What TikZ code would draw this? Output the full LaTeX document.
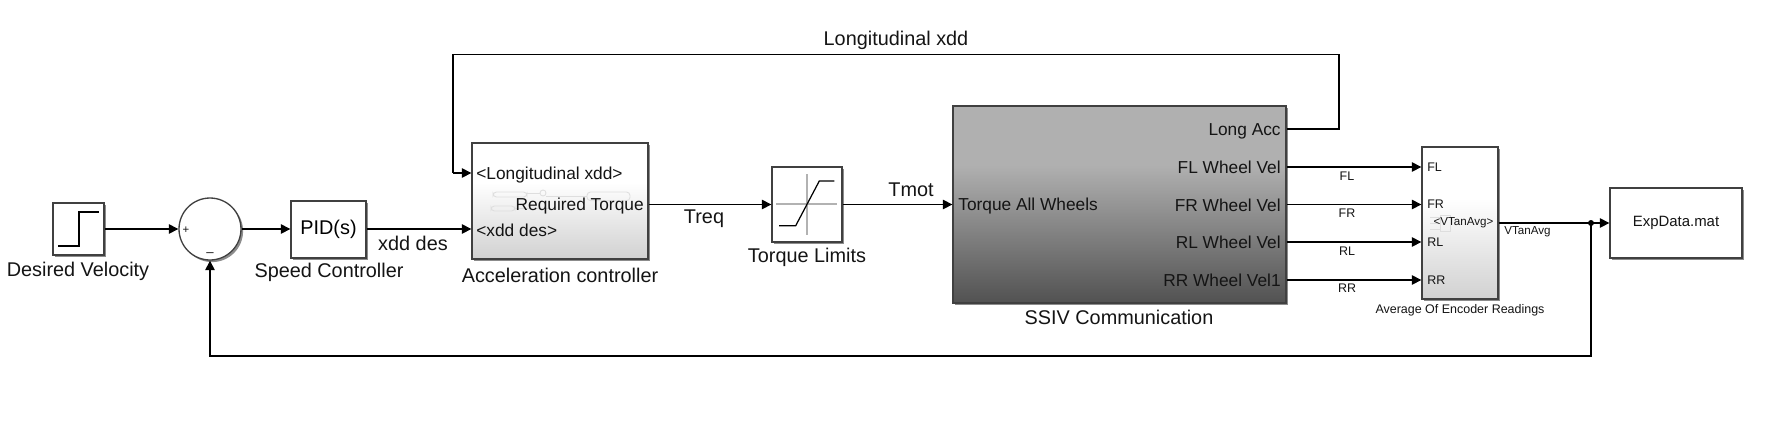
\documentclass[tikz,border=0pt]{standalone}
\usepackage{fontspec}
\setmainfont{Liberation Sans}
\usetikzlibrary{arrows.meta, shadows, calc}
\definecolor{edgegray}{RGB}{64, 64, 64}
\definecolor{textdark}{RGB}{20, 20, 20}
\definecolor{ghostgray}{RGB}{222, 222, 222}
\pgfdeclareverticalshading{ssivshade}{100bp}{color(0bp)=(black!68); color(25bp)=(black!68); color(60bp)=(black!31); color(75bp)=(black!31); color(100bp)=(black!31)}
\pgfdeclareverticalshading{maskshade}{100bp}{color(0bp)=(black!18); color(25bp)=(black!18); color(58bp)=(white); color(75bp)=(white); color(100bp)=(white)}
\tikzset{
  blockbox/.style={draw=edgegray, line width=0.75pt, fill=white, inner sep=0pt, drop shadow={shadow xshift=1.2pt, shadow yshift=-1.2pt, opacity=0.45, fill=black}},
  maskbox/.style={blockbox, shading=maskshade},
  sig/.style={draw=black, line width=0.65pt, -{Triangle[length=5.4pt, width=5.4pt]}},
  sigplain/.style={draw=black, line width=0.65pt},
  lbl/.style={inner sep=0pt, text=textdark, font=\fontsize{11.3}{13}\selectfont},
  portlbl/.style={inner sep=0pt, text=textdark, font=\fontsize{9.85}{12}\selectfont},
  tinylbl/.style={inner sep=0pt, text=textdark, font=\fontsize{7.1}{9}\selectfont},
  ghost/.style={draw=ghostgray, line width=0.5pt, rounded corners=2pt},
}

\begin{document}
\begin{tikzpicture}[x=0.02cm, y=-0.02cm]
  \useasboundingbox (0, 0) rectangle (1769, 447);

  \node[blockbox, minimum width=1.02cm, minimum height=1.04cm] (stepblk) at (78.5, 229) {};
  \node[blockbox, circle, minimum size=1.24cm] (sumblk) at (210, 229) {};
  \node[blockbox, minimum width=1.5cm, minimum height=1.14cm, font=\fontsize{11.3}{13}\selectfont] (pidblk) at (328.5, 229.5) {PID(s)};
  \node[maskbox, minimum width=3.52cm, minimum height=2.32cm] (accblk) at (560, 201) {};
  \node[blockbox, minimum width=1.4cm, minimum height=1.5cm] (satblk) at (807, 204.5) {};
  \node[blockbox, shading=ssivshade, minimum width=6.66cm, minimum height=3.94cm] (ssivblk) at (1119.5, 204.5) {};
  \node[maskbox, minimum width=1.52cm, minimum height=3.04cm] (avgblk) at (1460, 223) {};
  \node[blockbox, minimum width=2.64cm, minimum height=1.4cm, font=\fontsize{8.5}{10}\selectfont, text=textdark] (expblk) at (1676, 223) {ExpData.mat};

  \draw[line width=0.7pt] (58, 246) -- (79, 246) -- (79, 212) -- (99, 212);
  \draw[black!30, line width=0.6pt] (776, 204) -- (837, 204) (807, 174) -- (807, 235);
  \draw[line width=0.7pt] (779, 225.7) -- (795.7, 225.7) -- (819.3, 181) -- (834.3, 181);

  \draw[ghost] (493, 192) rectangle (527, 197);
  \draw[ghost] (587, 192) rectangle (630, 200.7);
  \draw[ghost] (491, 206) rectangle (515, 211);
  \draw[ghost] (527, 193.5) -- (540, 193.5) (546, 196) -- (587, 196) (515, 208) -- (550, 208);
  \draw[ghost] (543, 193) circle (3);
  \draw[ghost, rounded corners=0pt] (1440, 215) rectangle (1450, 231);
  \draw[ghost, rounded corners=0pt] (1430, 217) -- (1440, 217) (1430, 223) -- (1440, 223) (1430, 229) -- (1440, 229);

  \node[tinylbl, font=\fontsize{6.5}{7}\selectfont] (sumplus) at (186, 230) {+};
  \node[tinylbl, font=\fontsize{7.5}{8}\selectfont] (summinus) at (210, 255) {–};

  \node[portlbl, anchor=west] (accin1) at (476, 175) {<Longitudinal xdd>};
  \node[portlbl, anchor=west] (accin2) at (476, 230) {<xdd des>};
  \node[portlbl, anchor=east] (accout) at (644, 206) {Required Torque};
  \node[portlbl, anchor=west] (ssivin) at (958, 206) {Torque All Wheels};
  \node[portlbl, anchor=east] (ssivacc) at (1281, 131) {Long Acc};
  \node[portlbl, anchor=east] (ssivfl) at (1281, 167) {FL Wheel Vel};
  \node[portlbl, anchor=east] (ssivfr) at (1281, 205) {FR Wheel Vel};
  \node[portlbl, anchor=east] (ssivrl) at (1281, 242.5) {RL Wheel Vel};
  \node[portlbl, anchor=east] (ssivrr) at (1281, 280) {RR Wheel Vel1};
  \node[tinylbl, anchor=west] (avgfl) at (1427, 167) {FL};
  \node[tinylbl, anchor=west] (avgfr) at (1427, 204.5) {FR};
  \node[tinylbl, anchor=west] (avgrl) at (1427, 242) {RL};
  \node[tinylbl, anchor=west] (avgrr) at (1427, 280) {RR};
  \node[tinylbl, font=\fontsize{6.6}{8}\selectfont] (avgout) at (1463.5, 223) {<VTanAvg>};

  \node[lbl] (stepname) at (78, 271.5) {Desired Velocity};
  \node[lbl] (pidname) at (329, 272.5) {Speed Controller};
  \node[lbl] (accname) at (560, 275) {Acceleration controller};
  \node[lbl] (satname) at (807, 257) {Torque Limits};
  \node[lbl] (ssivname) at (1119, 317.5) {SSIV Communication};
  \node[tinylbl] (avgname) at (1460, 310) {Average Of Encoder Readings};
  \node[lbl] (xddlbl) at (413, 243.5) {xdd des};
  \node[lbl] (treqlbl) at (704, 218.5) {Treq};
  \node[lbl] (tmotlbl) at (911, 190) {Tmot};
  \node[lbl] (longlbl) at (896, 40.5) {Longitudinal xdd};
  \node[tinylbl] (fllbl) at (1347, 176) {FL};
  \node[tinylbl] (frlbl) at (1347, 213) {FR};
  \node[tinylbl] (rllbl) at (1347, 251) {RL};
  \node[tinylbl] (rrlbl) at (1347, 288) {RR};
  \node[tinylbl, font=\fontsize{6.6}{8}\selectfont] (vtanlbl) at (1527.5, 232) {VTanAvg};

  \coordinate (branch) at (1591, 223);
  \draw[sig] (stepblk.east) -- (sumblk.west);
  \draw[sig] (sumblk.east) -- (pidblk.west |- sumblk.east);
  \draw[sig] (pidblk.east |- sumblk.east) -- (accblk.west |- sumblk.east);
  \draw[sig] (accblk.east |- satblk.west) -- (satblk.west);
  \draw[sig] (satblk.east) -- (ssivblk.west);
  \draw[sigplain] (ssivblk.east |- 0, 129) -- (1339, 129) -- (1339, 54.5) -- (453, 54.5) -- (453, 173);
  \draw[sig] (453, 173) -- (accblk.west |- 0, 173);
  \draw[sig] (ssivblk.east |- ssivfl) -- (avgblk.west |- avgfl);
  \draw[sig] (ssivblk.east |- avgfr) -- (avgblk.west |- avgfr);
  \draw[sig] (ssivblk.east |- avgrl) -- (avgblk.west |- avgrl);
  \draw[sig] (ssivblk.east |- avgrr) -- (avgblk.west |- avgrr);
  \draw[sigplain] (avgblk.east |- branch) -- (branch);
  \draw[sig] (branch) -- (expblk.west);
  \draw[sig] (branch) -- (1591, 356) -- (210, 356) -- (sumblk.south);
  \fill (branch) circle (3);
\end{tikzpicture}
\end{document}
